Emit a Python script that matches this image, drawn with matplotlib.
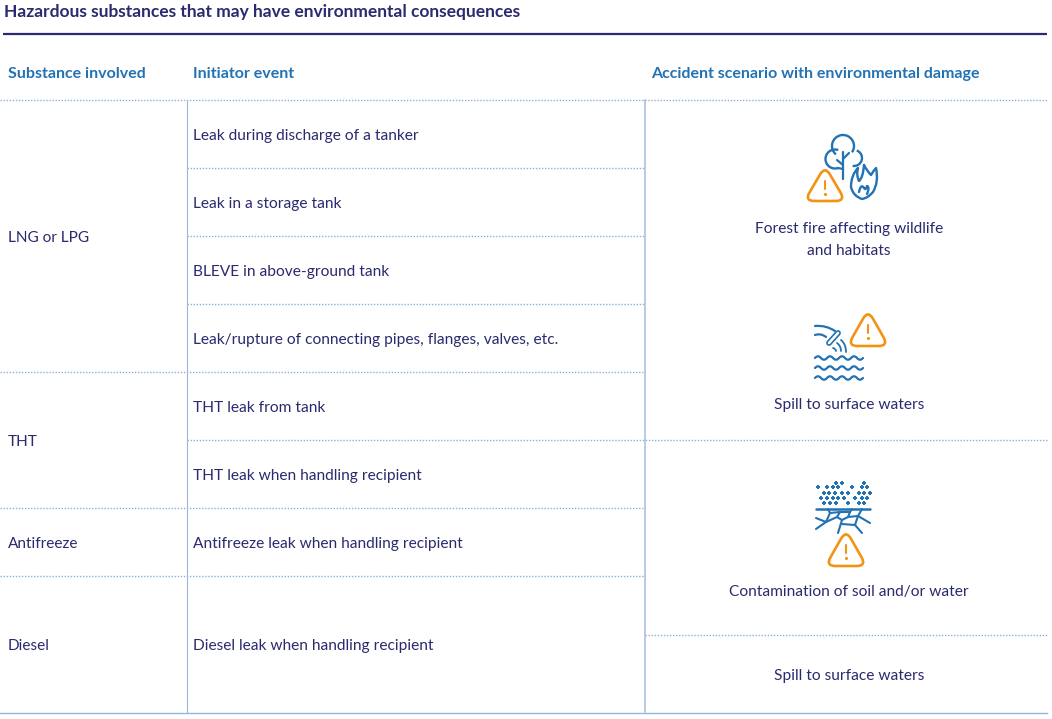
import matplotlib
matplotlib.use('Agg')
import matplotlib.pyplot as plt
from matplotlib.path import Path
from matplotlib.patches import PathPatch, Arc

NAVY = '#2b2a6e'
BLUE = '#2272b4'
LIGHT = '#8fb0d6'
ORANGE = '#f39314'

title = 'Hazardous substances that may have environmental consequences'
headers = ['Substance involved', 'Initiator event', 'Accident scenario with environmental damage']
substances = ['LNG or LPG', 'THT', 'Antifreeze', 'Diesel']
substance_y = [242, 446, 548, 650]
events = ['Leak during discharge of a tanker', 'Leak in a storage tank', 'BLEVE in above-ground tank',
          'Leak/rupture of connecting pipes, flanges, valves, etc.', 'THT leak from tank',
          'THT leak when handling recipient', 'Antifreeze leak when handling recipient',
          'Diesel leak when handling recipient']
event_y = [140, 208, 276, 344, 412, 480, 548, 650]
scenarios = ['Forest fire affecting wildlife', 'and habitats', 'Spill to surface waters',
             'Contamination of soil and/or water', 'Spill to surface waters']
scenario_y = [233, 255, 409, 596, 680]
# dotted row rules: y, x start, x end
rules = [(100, 0, 1047), (168, 187, 645), (236, 187, 645), (304, 187, 645), (372, 0, 645),
         (440, 187, 1047), (508, 0, 645), (576, 0, 645), (635, 645, 1047)]
# seeds of the soil icon
seed_rows = [(483, [836, 842, 864]), (487, [818, 827, 833, 838, 852, 862, 867]),
             (493, [824, 829, 835, 842, 848, 859, 864, 870]),
             (498, [821, 827, 833, 838, 844, 855, 862, 867]),
             (503, [824, 830, 836, 848, 859, 864])]
# cracks of the soil icon
cracks = [([816, 826, 816], [518, 522, 529]), ([826, 830, 828], [522, 513, 509]),
          ([830, 840, 837, 842], [513, 512, 517, 520]), ([840, 850, 852], [512, 512, 509]),
          ([850, 848, 858, 862], [512, 517, 516, 509]), ([858, 870], [516, 523]),
          ([826, 837], [522, 517]), ([848, 842], [517, 520]),
          ([842, 838], [520, 533]), ([842, 855, 862], [524, 525, 533]), ([855, 858], [525, 516])]

plt.rcParams['font.family'] = ['Lato', 'DejaVu Sans']
fig = plt.figure(figsize=(10.52, 7.19), dpi=100)
ax = fig.add_axes([0, 0, 1, 1])
ax.set_xlim(0, 1052)
ax.set_ylim(719, 0)
ax.axis('off')


def stroke(points, color=BLUE, lw=1.6):
    # points: first is a move, then pairs of (control, end) for quadratic curves
    codes = [Path.MOVETO] + [Path.CURVE3] * (len(points) - 1)
    ax.add_patch(PathPatch(Path(points, codes), fc='none', ec=color, lw=lw, capstyle='round', joinstyle='round'))


def line(xs, ys, color=BLUE, lw=1.6):
    ax.plot(xs, ys, color=color, lw=lw, solid_capstyle='round', solid_joinstyle='round')


def warning(cx, top, bottom):
    a = (cx, top - 5)
    r = (cx + 20.5, bottom + 1)
    l = (cx - 20.5, bottom + 1)
    t = 0.24

    def along(p, q):
        return (p[0] + (q[0] - p[0]) * t, p[1] + (q[1] - p[1]) * t)

    verts = [along(a, r), along(r, a), r, along(r, l), along(l, r), l, along(l, a), along(a, l), a, along(a, r)]
    codes = [Path.MOVETO, Path.LINETO, Path.CURVE3, Path.CURVE3, Path.LINETO, Path.CURVE3, Path.CURVE3,
             Path.LINETO, Path.CURVE3, Path.CURVE3]
    ax.add_patch(PathPatch(Path(verts, codes), fc='white', ec=ORANGE, lw=1.9, joinstyle='round'))
    line([cx, cx], [top + 10, top + 18], ORANGE, 1.5)
    ax.scatter([cx], [top + 23], s=5, color=ORANGE, linewidths=0)


def forest_icon():
    ax.add_patch(Arc((843, 146), 22, 22, theta1=130, theta2=395, color=BLUE, lw=1.7))
    ax.add_patch(Arc((835, 159), 19, 19, theta1=70, theta2=290, color=BLUE, lw=1.7))
    ax.add_patch(Arc((854, 158), 16, 16, theta1=-70, theta2=100, color=BLUE, lw=1.7))
    line([838, 843], [168, 169])
    line([843, 843], [152, 179])
    line([837, 843], [160, 165])
    line([849, 843], [153, 159])
    # flame
    stroke([(864, 165), (867, 171), (871, 175), (874, 170), (876, 168), (879, 182),
            (873, 192), (868, 198), (862, 199), (853, 196), (851, 187), (851, 175), (858, 168),
            (856, 175), (859, 181), (863, 178), (864, 165)], lw=1.7)
    stroke([(859, 192), (861, 183), (864, 188), (866, 191), (867, 186), (870, 187), (867, 194)], lw=1.7)
    warning(825, 171, 200)


def water_icon():
    stroke([(815, 326), (826, 325), (835, 331)])
    stroke([(815, 335), (821, 333), (826, 337)])
    ax.plot([829, 838], [343, 333], color=BLUE, lw=4.2, solid_capstyle='round')
    ax.plot([829, 838], [343, 333], color='white', lw=1.8, solid_capstyle='round')
    stroke([(833, 348), (836, 349), (836, 351)], lw=1.3)
    stroke([(837, 343), (841, 346), (841, 351)], lw=1.3)
    stroke([(841, 340), (846, 344), (846, 352)], lw=1.3)
    for y in [358, 368, 378]:
        pts = [(815, y)]
        for i, x in enumerate(range(815, 859, 6)):
            pts.append((x + 3, y - 3.5 if i % 2 == 0 else y + 3.5))
            pts.append((x + 6, y))
        stroke(pts, lw=1.6)
    warning(868, 315, 345)


def soil_icon():
    for y, xs in seed_rows:
        ax.scatter(xs, [y] * len(xs), marker='P', s=7, color=BLUE, linewidths=0)
    line([816, 870], [509, 509], lw=1.8)
    for xs, ys in cracks:
        line(xs, ys, lw=1.5)
    warning(846, 535, 565)


ax.text(4, 17, title, color=NAVY, fontsize=12.56, fontweight='bold', va='baseline', ha='left')
ax.plot([3, 1047], [34, 34], color=NAVY, lw=1.6, solid_capstyle='butt')

for x, label in zip([8, 193, 651], headers):
    ax.text(x, 78, label, color=BLUE, fontsize=11.5, fontweight='bold', va='baseline', ha='left')

for y, x0, x1 in rules:
    ax.plot([x0, x1], [y, y], color=LIGHT, lw=1, linestyle=(0, (1, 1.2)))

ax.plot([187, 187], [100, 712], color='#9db5d8', lw=0.8)
ax.plot([645, 645], [100, 712], color='#9db5d8', lw=1, snap=False)
ax.plot([0, 1047], [712.5, 712.5], color='#8fb8d9', lw=1)

for y, label in zip(substance_y, substances):
    ax.text(8, y, label, color=NAVY, fontsize=11.1, va='baseline', ha='left')
for y, label in zip(event_y, events):
    ax.text(193, y, label, color=NAVY, fontsize=11.2, va='baseline', ha='left')
for y, label in zip(scenario_y, scenarios):
    ax.text(849, y, label, color=NAVY, fontsize=11.2, va='baseline', ha='center')

forest_icon()
water_icon()
soil_icon()

fig.savefig('out.png', dpi=100, facecolor='white')
